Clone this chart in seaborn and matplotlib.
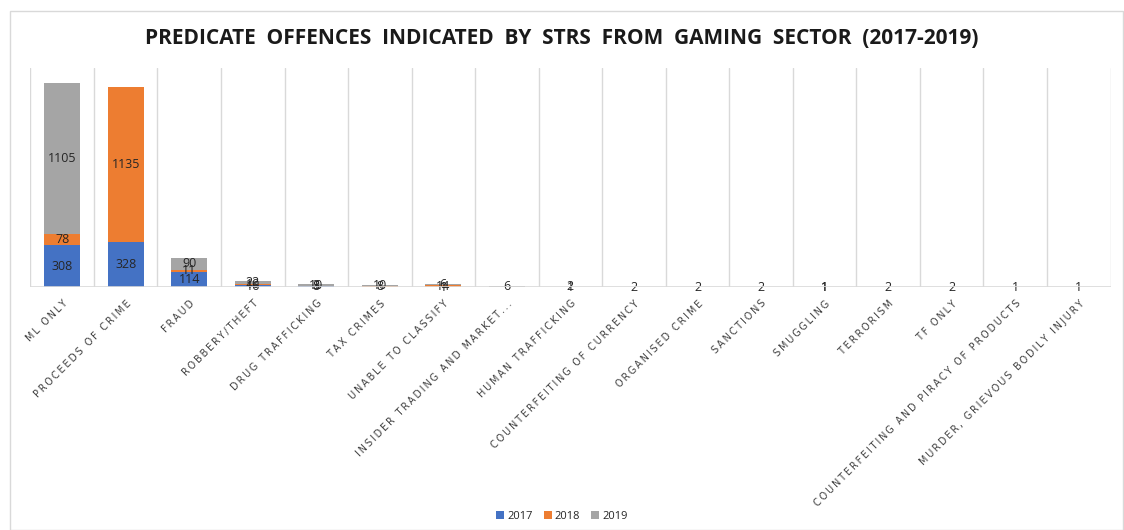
import seaborn as sns
import matplotlib.pyplot as plt
import numpy as np

categories = ['ML ONLY', 'PROCEEDS OF CRIME', 'FRAUD', 'ROBBERY/THEFT', 'DRUG TRAFFICKING',
              'TAX CRIMES', 'UNABLE TO CLASSIFY', 'INSIDER TRADING AND MARKET...',
              'HUMAN TRAFFICKING', 'COUNTERFEITING OF CURRENCY', 'ORGANISED CRIME',
              'SANCTIONS', 'SMUGGLING', 'TERRORISM', 'TF ONLY',
              'COUNTERFEITING AND PIRACY OF PRODUCTS', 'MURDER, GRIEVOUS BODILY INJURY']
v2017 = [308, 328, 114, 16, 8, 0, 1, 0, 1, 0, 0, 0, 1, 0, 0, 0, 0]
v2018 = [78, 1135, 11, 10, 3, 8, 14, 0, 0, 0, 0, 0, 0, 0, 0, 0, 0]
v2019 = [1105, 0, 90, 22, 10, 10, 6, 6, 2, 2, 2, 2, 1, 2, 2, 1, 1]
years = ['2017', '2018', '2019']
colors = ['#4472c4', '#ed7d31', '#a5a5a5']

sns.set_style('white')
plt.rcParams['font.family'] = ['Open Sans', 'DejaVu Sans']

fig = plt.figure(figsize=(11.24, 5.30), dpi=100)
ax = fig.add_axes([0.027, 0.458, 0.961, 0.414])

series = [v2017, v2018, v2019]
bottom = np.zeros(len(categories))
for vals, yr, col in zip(series, years, colors):
    sns.barplot(x=categories, y=vals, bottom=bottom, color=col, width=0.57,
                label=yr, ax=ax, saturation=1, linewidth=0)
    for i, v in enumerate(vals):
        if v > 0:
            ax.text(i, bottom[i] + v / 2, str(v), ha='center', va='center',
                    fontsize=9, color='#262626')
    bottom = bottom + np.array(vals)

handles, labels = ax.get_legend_handles_labels()
if ax.get_legend() is not None:
    ax.get_legend().remove()

ax.set_ylim(0, 1600)
ax.set_xlim(-0.5, len(categories) - 0.5)
for x in np.arange(-0.5, len(categories), 1):
    ax.axvline(x, color='#d9d9d9', linewidth=1, zorder=0)
ax.axhline(0, color='#d9d9d9', linewidth=1.2, zorder=3)
for s in ax.spines.values():
    s.set_visible(False)
ax.set_yticks([])
ax.tick_params(axis='x', length=0, pad=8)
ax.set_xticks(range(len(categories)))
# letter-spaced caps like the original
spaced = ['\u2009'.join(c) for c in categories]
ax.set_xticklabels(spaced, rotation=45, ha='right', rotation_mode='anchor',
                   fontsize=6.9, color='#404040', family=['DejaVu Sans'])

fig.text(0.5, 0.928, 'PREDICATE  OFFENCES  INDICATED  BY  STRS  FROM  GAMING  SECTOR  (2017-2019)',
         ha='center', va='center', fontsize=15, fontweight='bold', color='#1a1a1a')

fig.legend(handles, labels, loc='center', bbox_to_anchor=(0.5, 0.025), ncol=3,
           frameon=False, fontsize=8, handlelength=0.7, handleheight=0.7,
           handletextpad=0.3, columnspacing=1.0)

fig.patches.append(plt.Rectangle((0.009, 0.0), 0.99, 0.98, transform=fig.transFigure,
                                 fill=False, edgecolor='#d9d9d9', linewidth=1))
fig.savefig('out.png', dpi=100)
